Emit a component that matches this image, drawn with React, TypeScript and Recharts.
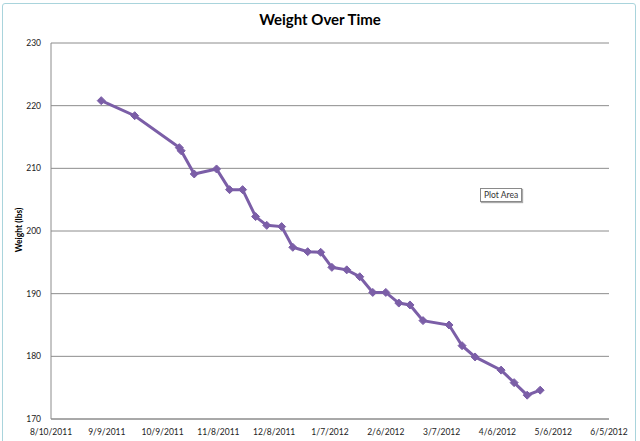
import { LineChart, Line, XAxis, YAxis, CartesianGrid } from 'recharts'

// weigh-in dates and weights (lbs)
const dates = [
  '2011-09-06', '2011-09-24', '2011-10-18', '2011-10-19', '2011-10-26', '2011-11-07',
  '2011-11-14', '2011-11-21', '2011-11-28', '2011-12-04', '2011-12-12', '2011-12-18',
  '2011-12-26', '2012-01-02', '2012-01-08', '2012-01-16', '2012-01-23', '2012-01-30',
  '2012-02-06', '2012-02-13', '2012-02-19', '2012-02-26', '2012-03-11', '2012-03-18',
  '2012-03-25', '2012-04-08', '2012-04-15', '2012-04-22', '2012-04-29',
]
const weights = [
  220.8, 218.4, 213.3, 212.8, 209.1, 209.9,
  206.6, 206.6, 202.3, 200.9, 200.7, 197.4,
  196.7, 196.6, 194.2, 193.8, 192.7, 190.2,
  190.2, 188.5, 188.2, 185.7, 185.0, 181.7,
  179.9, 177.8, 175.8, 173.8, 174.6,
]
const xTickDates = [
  '2011-08-10', '2011-09-09', '2011-10-09', '2011-11-08', '2011-12-08', '2012-01-07',
  '2012-02-06', '2012-03-07', '2012-04-06', '2012-05-06', '2012-06-05',
]
const yTicks = [170, 180, 190, 200, 210, 220, 230]

const toMs = (s: string) => {
  const [y, m, d] = s.split('-').map(Number)
  return Date.UTC(y, m - 1, d)
}
const fmtDate = (ms: number) => {
  const d = new Date(ms)
  return `${d.getUTCMonth() + 1}/${d.getUTCDate()}/${d.getUTCFullYear()}`
}

const data = dates.map((d, i) => ({ t: toMs(d), w: weights[i] }))
const xTicks = xTickDates.map(toMs)

const PURPLE = '#7b5ea7'
const FONT = 'Lato, "Open Sans", sans-serif'

const Diamond = (props: any) => {
  const { cx, cy } = props
  if (cx == null || cy == null) return null
  const r = 4
  return (
    <polygon
      points={`${cx},${cy - r} ${cx + r},${cy} ${cx},${cy + r} ${cx - r},${cy}`}
      fill={PURPLE}
      stroke={PURPLE}
    />
  )
}

export default function App() {
  return (
    <div style={{ position: 'absolute', left: 0, top: 0, width: 640, height: 441, background: '#fff', fontFamily: FONT }}>
      <div
        style={{
          position: 'absolute', left: 2, top: 3, width: 634, height: 445,
          border: '1px solid #a9d4dc', borderRadius: 3, boxSizing: 'border-box',
        }}
      />
      <div
        style={{
          position: 'absolute', left: 0, top: 10, width: 640, textAlign: 'center',
          fontSize: 15, fontWeight: 700, color: '#000',
        }}
      >
        Weight Over Time
      </div>
      <div
        style={{
          position: 'absolute', left: 19, top: 230, transform: 'translate(-50%, -50%) rotate(-90deg)',
          fontSize: 8.5, fontWeight: 700, color: '#000', whiteSpace: 'nowrap',
        }}
      >
        Weight (lbs)
      </div>
      <LineChart
        width={640}
        height={441}
        data={data}
        margin={{ top: 43, right: 31, bottom: 0, left: 0 }}
        style={{ position: 'absolute', left: 0, top: 0 }}
      >
        <CartesianGrid vertical={false} stroke="#8c8c8c" />
        <XAxis
          dataKey="t"
          type="number"
          domain={[xTicks[0], xTicks[xTicks.length - 1]]}
          ticks={xTicks}
          tickFormatter={fmtDate}
          height={22}
          stroke="#8c8c8c"
          tickLine={false}
          tickMargin={4}
          interval={0}
          tick={{ fill: '#222', fontSize: 8.5, fontFamily: FONT }}
        />
        <YAxis
          dataKey="w"
          type="number"
          domain={[170, 230]}
          ticks={yTicks}
          width={51}
          stroke="#8c8c8c"
          tickLine={false}
          tickMargin={4}
          tick={{ fill: '#222', fontSize: 8.5, fontFamily: FONT }}
        />
        <Line
          dataKey="w"
          stroke={PURPLE}
          strokeWidth={3}
          dot={<Diamond />}
          activeDot={false}
          isAnimationActive={false}
        />
      </LineChart>
      <div
        style={{
          position: 'absolute', left: 480, top: 188, padding: '1px 3px',
          border: '1px solid #8a8a8a', background: '#fff', fontSize: 8.5, color: '#333',
          boxShadow: '1px 1px 1px #aaa',
        }}
      >
        Plot Area
      </div>
    </div>
  )
}
